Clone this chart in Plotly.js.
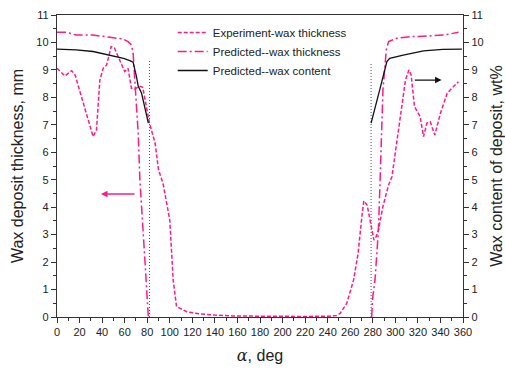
<!DOCTYPE html>
<html>
<head>
<meta charset="utf-8">
<script src="https://cdn.plot.ly/plotly-3.0.1.min.js"></script>
<style>html,body{margin:0;padding:0;background:#fff;}#chart{width:505px;height:372px;}</style>
</head>
<body>
<div id="chart"></div>
<script>
// Experiment - wax thickness (mm)
var expX = [0,7,13,16,32,35,38,41,44,48,51,59,60,63,66,69,73,76,82,87,90,94,100,103,106,115,127,140,156,180,200,220,240,248,251,257,263,267,270,272,275,278,281,283,285,289,294,297,301,306,309,312,314,317,322,325,328,331,333,335,340,346,350,356];
var expY = [9.06,8.78,8.97,8.82,6.57,6.81,8.63,9.06,9.18,9.85,9.79,9.0,8.94,9.06,8.33,8.30,8.41,8.37,7.06,6.33,5.36,4.87,3.53,1.35,0.38,0.19,0.11,0.07,0.04,0.03,0.02,0.02,0.03,0.05,0.13,0.5,1.35,2.32,3.53,4.23,4.08,3.41,2.8,2.93,3.17,4.02,4.81,5.11,6.33,7.66,8.63,9.0,8.82,7.66,7.3,6.57,7.06,7.11,6.87,6.63,7.42,8.15,8.33,8.57];
// Predicted - wax thickness (mm)
var predX = [0,8,17,32,47,59,63,66,67.5,69,70.5,72,73.5,76,78.5,79.5,81,null,279,280,282,283.5,285,286.5,289,292,294,301,313,331,343,356];
var predY = [10.37,10.37,10.27,10.27,10.19,10.12,10.03,9.91,9.6,8.75,7.78,6.69,4.99,3.53,1.71,0.98,0,null,0,0.74,1.35,2.32,3.17,4.99,8.27,9.73,10.03,10.15,10.21,10.24,10.27,10.37];
// Predicted - wax content (wt%)
var contX = [0,17,32,47,59,64.5,67.5,70.5,72,75,78,81,null,278.5,282,285,287,289.5,292.5,295,307,325,342,359];
var contY = [9.76,9.73,9.67,9.54,9.42,9.34,9.28,8.75,8.41,8.15,7.66,7.06,null,7.06,7.66,8.15,8.41,8.82,9.3,9.42,9.54,9.69,9.75,9.76];
// vertical reference lines
var vlineX = [82,82,null,278.5,278.5];
var vlineY = [0,9.4,null,0,9.25];
// tick labels
var xTicks = [0,20,40,60,80,100,120,140,160,180,200,220,240,260,280,300,320,340,360];
var yTicks = [0,1,2,3,4,5,6,7,8,9,10,11];

var pink = '#ff1a8c';
var traces = [
  {x: vlineX, y: vlineY, mode: 'lines', line: {color: '#555', width: 1, dash: '1px,2px'}, showlegend: false, hoverinfo: 'skip'},
  {x: expX, y: expY, mode: 'lines', name: 'Experiment-wax thickness', line: {color: pink, width: 1.5, dash: '4px,2px'}},
  {x: predX, y: predY, mode: 'lines', name: 'Predicted--wax thickness', line: {color: pink, width: 1.5, dash: '9px,3px,2px,3px'}},
  {x: contX, y: contY, mode: 'lines', name: 'Predicted--wax content', yaxis: 'y2', line: {color: '#111', width: 1.3}}
];

var fnt = {family: 'Liberation Sans, Arial, sans-serif', size: 11, color: '#222'};
var layout = {
  width: 505, height: 372,
  margin: {l: 57, r: 42, t: 15, b: 55},
  paper_bgcolor: '#fff', plot_bgcolor: '#fff',
  font: fnt,
  showlegend: true,
  legend: {x: 0.285, y: 0.99, xanchor: 'left', yanchor: 'top', bgcolor: 'rgba(0,0,0,0)', font: {family: fnt.family, size: 11.5, color: '#222'}, tracegroupgap: 0},
  xaxis: {
    range: [0, 360], tickvals: xTicks, ticktext: xTicks.map(String),
    ticks: 'outside', ticklen: 5, tickwidth: 1, tickcolor: '#333',
    minor: {dtick: 10, ticks: 'outside', ticklen: 3, tickcolor: '#333'},
    showline: true, linecolor: '#333', linewidth: 1.2, mirror: true,
    showgrid: false, zeroline: false,
    tickfont: {family: fnt.family, size: 11, color: '#222'},
    title: {text: '<i style="font-family:DejaVu Serif,Liberation Serif,serif">α</i>, deg', font: {family: fnt.family, size: 16, color: '#222'}, standoff: 12}
  },
  yaxis: {
    range: [0, 11], tickvals: yTicks, ticktext: yTicks.map(String),
    ticks: 'outside', ticklen: 5, tickwidth: 1, tickcolor: '#333',
    minor: {dtick: 0.5, ticks: 'outside', ticklen: 3, tickcolor: '#333'},
    showline: true, linecolor: '#333', linewidth: 1.2,
    showgrid: false, zeroline: false,
    tickfont: {family: fnt.family, size: 11, color: '#222'},
    title: {text: 'Wax deposit thickness, mm', font: {family: fnt.family, size: 16, color: '#222'}, standoff: 8}
  },
  yaxis2: {
    overlaying: 'y', side: 'right', anchor: 'x',
    range: [0, 11], tickvals: yTicks, ticktext: yTicks.map(String),
    ticks: 'outside', ticklen: 5, tickwidth: 1, tickcolor: '#333',
    minor: {dtick: 0.5, ticks: 'outside', ticklen: 3, tickcolor: '#333'},
    showline: true, linecolor: '#333', linewidth: 1.2,
    showgrid: false, zeroline: false,
    tickfont: {family: fnt.family, size: 11, color: '#222'},
    title: {text: 'Wax content of deposit, wt%', font: {family: fnt.family, size: 16, color: '#222'}, standoff: 13}
  },
  annotations: [
    {x: 39, y: 4.48, ax: 70, ay: 4.48, xref: 'x', yref: 'y', axref: 'x', ayref: 'y', text: '', showarrow: true, arrowhead: 2, arrowsize: 1, arrowwidth: 1.3, arrowcolor: pink},
    {x: 341, y: 8.63, ax: 316, ay: 8.63, xref: 'x', yref: 'y', axref: 'x', ayref: 'y', text: '', showarrow: true, arrowhead: 2, arrowsize: 1, arrowwidth: 1.3, arrowcolor: '#111'}
  ]
};
Plotly.newPlot('chart', traces, layout, {displayModeBar: false, staticPlot: true});
</script>
</body>
</html>
